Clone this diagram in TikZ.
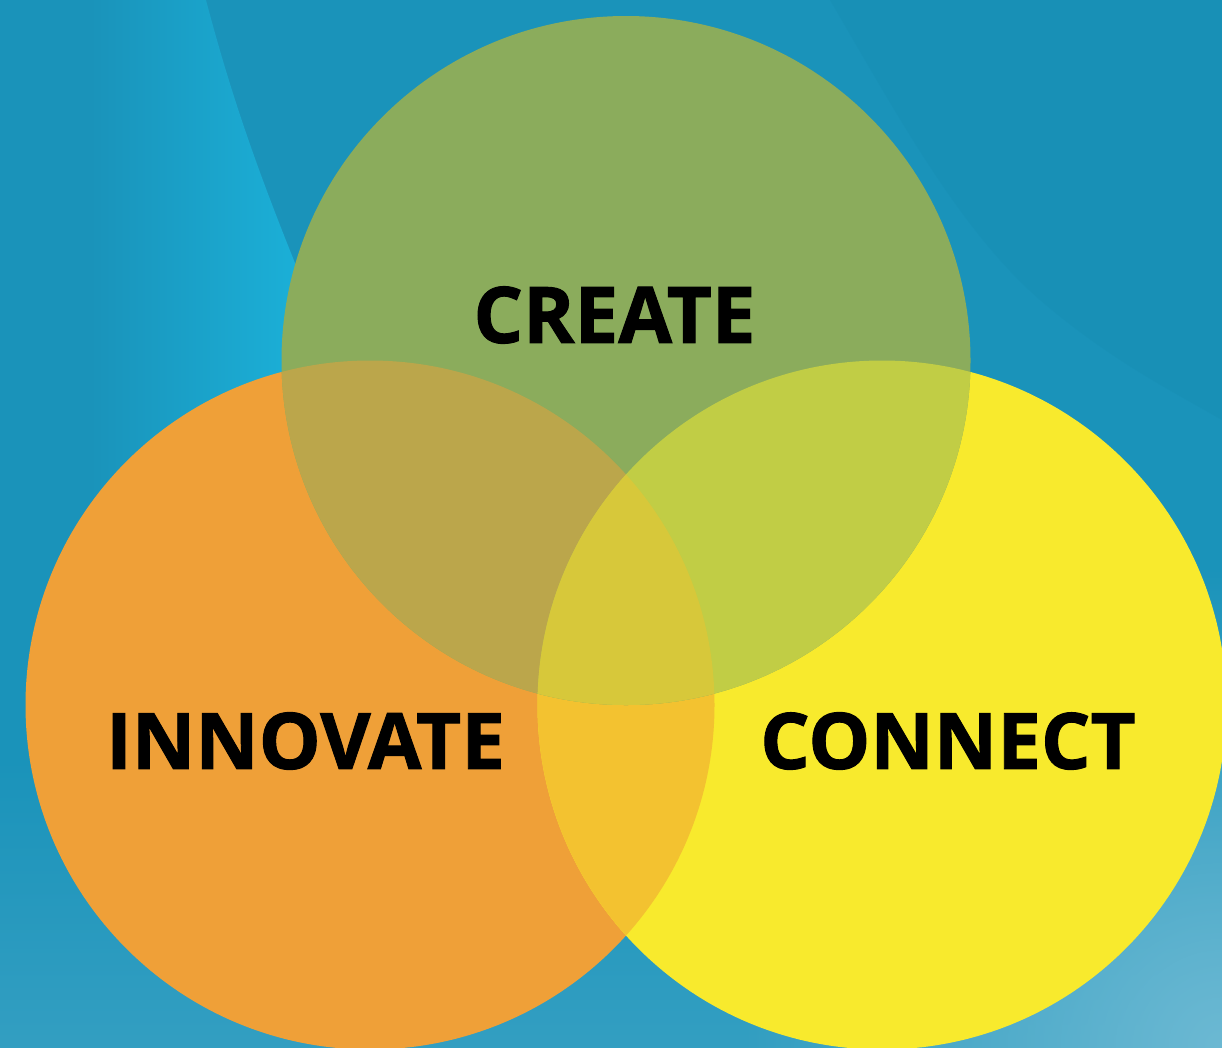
\documentclass[tikz,border=0pt]{standalone}
\usepackage{fontspec}
\setmainfont{Open Sans}[BoldFeatures={FakeBold=1.2}]
\usetikzlibrary{positioning, fadings}

\definecolor{bgblue}{HTML}{1A93BA}
\definecolor{bglight}{HTML}{1BB4DC}
\definecolor{bgdark}{HTML}{168CB1}
\definecolor{bglow}{HTML}{6CB9D3}
\definecolor{greenfill}{HTML}{8BAC5C}
\definecolor{orangefill}{HTML}{EFA038}
\definecolor{yellowfill}{HTML}{F8EA2D}
\definecolor{orangeyellow}{HTML}{F3C230}
\definecolor{greenorange}{HTML}{BBA64B}
\definecolor{greenyellow}{HTML}{C1CD45}
\definecolor{allthree}{HTML}{D7C83A}

\newcommand{\vennr}{344.5}
\tikzfading[name=glowfade, inner color=transparent!0, outer color=transparent!100]

\tikzset{
x=1pt, y=-1pt, % one unit is one pixel of the layout, y runs down
venn/.style={circle, inner sep=0pt, minimum size=689pt}, % sets the size of each circle
word/.style={inner sep=0pt, font=\fontsize{78}{80}\selectfont\bfseries}, % the big labels
}

\begin{document}
\begin{tikzpicture}
        \useasboundingbox (0,0) rectangle (1222,1047);

        % Background
        \fill[bgblue] (0,0) rectangle (1222,1047);
        \shade[left color=bgblue, right color=bglight]
            (90,0) -- (206,0) .. controls (235,110) and (265,190) .. (310,300)
            -- (330,400) -- (330,520) -- (90,520) -- cycle;
        \fill[bgdark, opacity=0.35] (830,0) .. controls (900,120) and (960,230) .. (1040,300)
            .. controls (1110,360) and (1170,390) .. (1222,420) -- (1222,0) -- cycle;
        \shade[top color=bgblue, bottom color=bgblue!70!bglow] (0,760) rectangle (1222,1047);
        \fill[bglow, path fading=glowfade] (1222,1047) circle[radius=480];

        % Bottom circles
        \node[venn, fill=orangefill] (innovate) at (370,705) {};
        \node[venn, fill=yellowfill] (connect) at (882,705) {};
        \begin{scope}
            \clip (innovate.center) circle[radius=\vennr];
            \fill[orangeyellow] (connect.center) circle[radius=\vennr];
        \end{scope}

        % Top circle and its overlaps
        \node[venn, fill=greenfill] (create) at (626,360.5) {};
        \begin{scope}
            \clip (create.center) circle[radius=\vennr];
            \fill[greenorange] (innovate.center) circle[radius=\vennr];
            \fill[greenyellow] (connect.center) circle[radius=\vennr];
            \clip (innovate.center) circle[radius=\vennr];
            \fill[allthree] (connect.center) circle[radius=\vennr];
        \end{scope}

        % Labels
        \node[word] (createlabel) at (614.5,315) {CREATE};
        \node[word] (innovatelabel) at (305.5,741) {INNOVATE};
        \node[word] (connectlabel) at (948,741) {CONNECT};
    \end{tikzpicture}
\end{document}
